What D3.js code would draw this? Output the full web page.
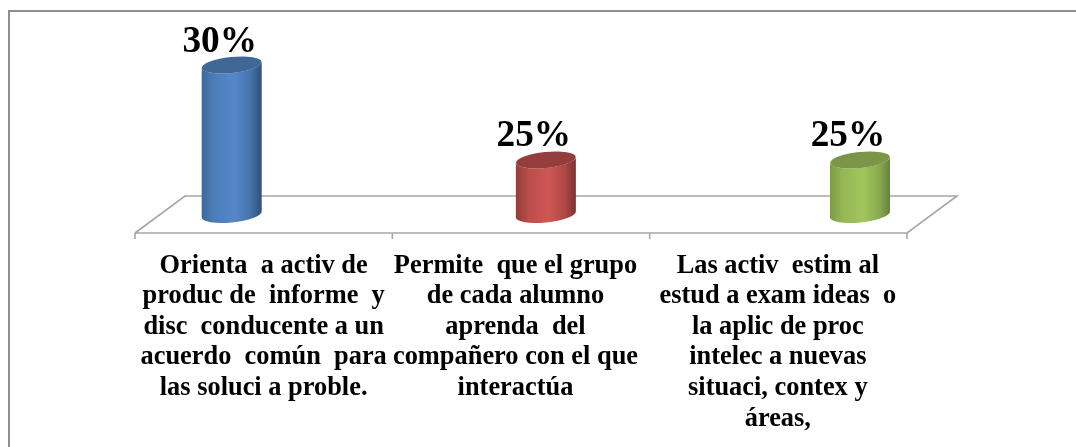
<!DOCTYPE html>
<html>
<head>
<meta charset="utf-8">
<script src="https://cdnjs.cloudflare.com/ajax/libs/d3/7.8.5/d3.min.js"></script>
<style>
html,body{margin:0;padding:0;background:#fff;overflow:hidden}
svg{display:block}
text{font-family:"Liberation Serif","Times New Roman",serif;font-weight:bold;fill:#000;white-space:pre}
</style>
</head>
<body>
<svg id="chart" width="1076" height="447"></svg>
<script>
const categories = ["A", "B", "C"];
const values = [30, 25, 25];
const valueLabels = ["30%", "25%", "25%"];
const categoryLines = [
  ["Orienta  a activ de", "produc de  informe  y", "disc  conducente a un", "acuerdo  común  para", "las soluci a proble."],
  ["Permite  que el grupo", "de cada alumno", "aprenda  del", "compañero con el que", "interactúa"],
  ["Las activ  estim al", "estud a exam ideas  o", "la aplic de proc", "intelec a nuevas", "situaci, contex y", "áreas,"]
];
const palettes = [
  {edgeL:"#3d6899", mid:"#5488c8", edgeR:"#2f5079", top:"#3f6896"},
  {edgeL:"#913c3a", mid:"#cf5653", edgeR:"#7a3230", top:"#943e3c"},
  {edgeL:"#7b9b47", mid:"#a2c55c", edgeR:"#67823a", top:"#7b9549"}
];

const svg = d3.select("#chart");
const W = 1076, H = 447;
const gridColor = "#a6a6a6", frameColor = "#8e8e8e";

const floorY = 233, depthX = 50, depthY = 37;
const xAxis = d3.scaleBand().domain(categories).range([135, 907]);
const xBar = d3.scalePoint().domain(categories).range([231.7, 860]);
const y = d3.scaleLinear().domain([22.13, 30]).range([214.5, 65]);
const rx = 30, ry = 8, tilt = -6, dy = 3;

// frame
svg.append("path")
  .attr("d", d3.line()([[9, H], [9, 11], [W, 11]]))
  .attr("fill", "none").attr("stroke", frameColor).attr("stroke-width", 2);

// floor
const [x0, x1] = xAxis.range();
svg.append("path")
  .attr("d", d3.line()([[x0, floorY], [x0 + depthX, floorY - depthY], [x1 + depthX, floorY - depthY], [x1, floorY], [x0, floorY]]))
  .attr("fill", "none").attr("stroke", gridColor).attr("stroke-width", 1.6);

const tickPositions = categories.map(c => xAxis(c)).concat([x1]);
svg.selectAll("line.tick").data(tickPositions).join("line")
  .attr("class", "tick")
  .attr("x1", d => d).attr("x2", d => d)
  .attr("y1", floorY).attr("y2", floorY + 6)
  .attr("stroke", gridColor).attr("stroke-width", 1.6);

// gradients
const defs = svg.append("defs");
palettes.forEach((p, i) => {
  const g = defs.append("linearGradient").attr("id", "g" + i)
    .attr("x1", "0").attr("x2", "1").attr("y1", "0").attr("y2", "0");
  g.append("stop").attr("offset", "0").attr("stop-color", p.edgeL);
  g.append("stop").attr("offset", "0.2").attr("stop-color", d3.interpolateRgb(p.edgeL, p.mid)(0.65));
  g.append("stop").attr("offset", "0.55").attr("stop-color", p.mid);
  g.append("stop").attr("offset", "0.82").attr("stop-color", d3.interpolateRgb(p.mid, p.edgeR)(0.4));
  g.append("stop").attr("offset", "1").attr("stop-color", p.edgeR);
});
const blur = defs.append("filter").attr("id", "soft").attr("x", "-5%").attr("y", "-5%").attr("width", "110%").attr("height", "110%");
blur.append("feGaussianBlur").attr("stdDeviation", 0.35);

// cylinders
const base = y.domain()[0];
const bars = svg.selectAll("g.bar").data(categories).join("g").attr("class", "bar").attr("filter", "url(#soft)");
bars.append("path")
  .attr("fill", (d, i) => `url(#g${i})`)
  .attr("d", (d, i) => {
    const cx = xBar(d), t = y(values[i]), b = y(base);
    return `M${cx - rx},${t + dy} L${cx - rx},${b + dy} A${rx},${ry} ${tilt} 0 0 ${cx + rx},${b - dy} L${cx + rx},${t - dy} A${rx},${ry} ${tilt} 0 1 ${cx - rx},${t + dy} Z`;
  });
bars.append("ellipse")
  .attr("rx", rx).attr("ry", ry)
  .attr("transform", (d, i) => `translate(${xBar(d)},${y(values[i])}) rotate(${tilt})`)
  .attr("fill", (d, i) => palettes[i].top);

// value labels
svg.selectAll("text.val").data(categories).join("text")
  .attr("class", "val")
  .attr("x", d => xBar(d) - 12)
  .attr("y", (d, i) => y(values[i]) - 13.5)
  .attr("text-anchor", "middle")
  .attr("font-size", 37.3)
  .attr("filter", "url(#soft)")
  .text((d, i) => valueLabels[i]);

// category labels
const lineH = 30.65, firstBase = 272.5;
const labelNudge = [0, -5.5, -0.5];
categoryLines.forEach((lines, i) => {
  svg.append("text")
    .attr("text-anchor", "middle")
    .attr("font-size", 26.4)
    .attr("filter", "url(#soft)")
    .selectAll("tspan").data(lines).join("tspan")
    .attr("x", xAxis(categories[i]) + xAxis.bandwidth() / 2 + labelNudge[i])
    .attr("y", (d, j) => firstBase + j * lineH)
    .text(d => d);
});
</script>
</body>
</html>
